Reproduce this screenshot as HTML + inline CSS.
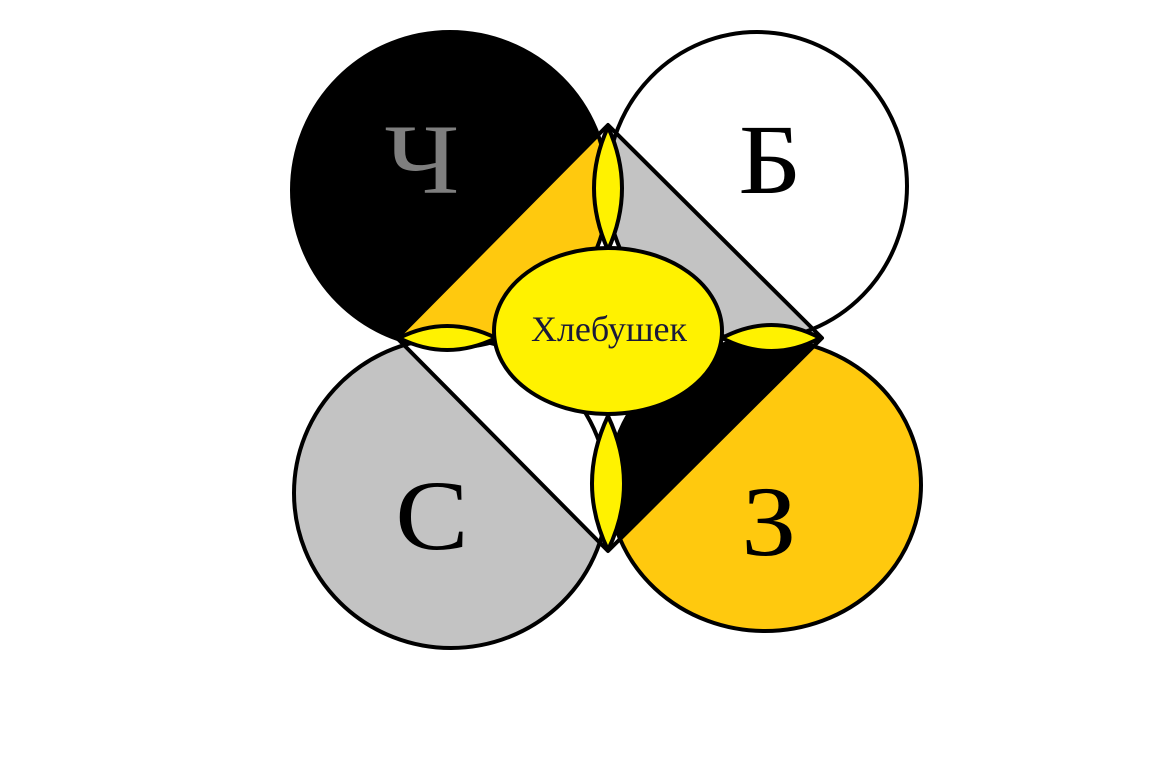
<!DOCTYPE html>
<html><head><meta charset="utf-8"><style>html,body{margin:0;padding:0;background:#fff;}svg{display:block;}</style></head>
<body>
<svg width="1152" height="778" viewBox="0 0 1152 778" xmlns="http://www.w3.org/2000/svg">
<defs>
<clipPath id="c1"><ellipse cx="450" cy="190" rx="158" ry="158"/></clipPath>
<clipPath id="c2"><ellipse cx="757" cy="186" rx="150" ry="154"/></clipPath>
<clipPath id="c3"><ellipse cx="451" cy="493" rx="157" ry="155"/></clipPath>
<clipPath id="c4"><ellipse cx="765" cy="485" rx="156" ry="146"/></clipPath>
</defs>
<ellipse cx="450" cy="190" rx="158" ry="158" fill="#000"/>
<polygon points="608,125 397,338 700,338 700,100" fill="#FFC90E" clip-path="url(#c1)"/>
<ellipse cx="757" cy="186" rx="150" ry="154" fill="#fff"/>
<polygon points="608,125 822,338 600,338" fill="#C3C3C3" clip-path="url(#c2)"/>
<ellipse cx="451" cy="493" rx="157" ry="155" fill="#C3C3C3"/>
<polygon points="397,338 608,551 620,551 620,330" fill="#fff" clip-path="url(#c3)"/>
<ellipse cx="765" cy="485" rx="156" ry="146" fill="#FFC90E"/>
<polygon points="822,338 608,551 600,551 600,330" fill="#000" clip-path="url(#c4)"/>
<g fill="none" stroke="#000" stroke-width="4">
<ellipse cx="450" cy="190" rx="158" ry="158"/>
<ellipse cx="757" cy="186" rx="150" ry="154"/>
<ellipse cx="451" cy="493" rx="157" ry="155"/>
<ellipse cx="765" cy="485" rx="156" ry="146"/>
</g>
<polygon points="608,125 822,338 608,551 397,338" fill="none" stroke="#000" stroke-width="4" stroke-linejoin="round"/>
<g fill="#FFF200" stroke="#000" stroke-width="4" stroke-linejoin="round">
<path d="M608,127 Q584,188 608,250 Q632,188 608,127 Z" transform="translate(608,188) scale(1) translate(-608,-188)"/>
<path d="M608,127 Q580,188 608,250 Q636,188 608,127 Z"/>
<path d="M399,338 Q447,314 496,338 Q447,362 399,338 Z"/>
<path d="M722,338 Q772,312 820,338 Q772,364 722,338 Z"/>
<path d="M608,416 Q576,484 608,550 Q640,484 608,416 Z"/>
<ellipse cx="608" cy="331" rx="114" ry="83"/>
</g>
<g font-family="'Liberation Serif','DejaVu Serif',serif" text-anchor="middle">
<text x="422" y="193" font-size="100" fill="#7f7f7f" transform="translate(422,0) scale(1.15,1) translate(-422,0)">Ч</text>
<text x="770" y="193" font-size="100" fill="#000" transform="translate(770,0) scale(1.1,1) translate(-770,0)">Б</text>
<text x="432" y="549" font-size="100" fill="#000" transform="translate(432,0) scale(1.1,1) translate(-432,0)">С</text>
<text x="769" y="555" font-size="100" fill="#000" transform="translate(769,0) scale(1.1,1) translate(-769,0)">З</text>
<text x="609" y="341" font-size="36" fill="#1a1a3a">Хлебушек</text>
</g>
</svg>
</body></html>
